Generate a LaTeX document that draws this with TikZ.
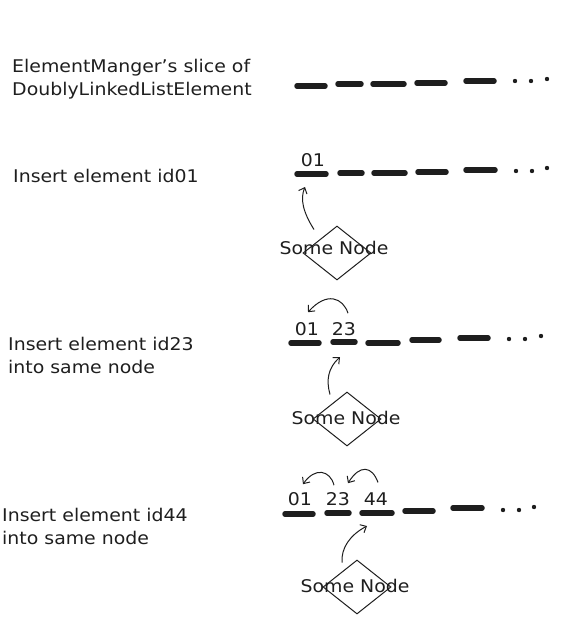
\documentclass[tikz,border=0pt]{standalone}
\usepackage{fontspec}
\setmainfont[FakeStretch=1.08]{DejaVu Sans}
\usetikzlibrary{shapes.geometric,arrows.meta}
\definecolor{ink}{HTML}{1E1E1E}
\begin{document}
\begin{tikzpicture}[x=1pt,y=-1pt,
  lbl/.style={anchor=west,align=left,font=\fontsize{17.5}{23}\selectfont,inner sep=0pt,text=ink},
  num/.style={font=\fontsize{17.5}{20}\selectfont,inner sep=0pt,text=ink},
  slot/.style={line width=5.5pt,line cap=round,draw=ink},
  dotc/.style={fill=ink},
  sn/.style={diamond,draw=ink,line width=1pt,minimum width=68pt,minimum height=54pt,inner sep=0pt},
  snt/.style={font=\fontsize{17.5}{20}\selectfont,inner sep=0pt,text=ink},
  arr/.style={-{Straight Barb[length=5pt,width=9pt]},line width=1pt,draw=ink}]
\useasboundingbox (0,0) rectangle (586,633);

% ---------- Row 1 ----------
\node[lbl] (t1) at (12,79) {ElementManger's slice of\\DoublyLinkedListElement};
\draw[slot] (297,86) -- (325,86);
\draw[slot] (338,84) -- (361,84);
\draw[slot] (373,84) -- (404,84);
\draw[slot] (417,83) -- (445,83);
\draw[slot] (466,81) -- (494,81);
\fill[dotc] (515,81) circle (2.2) (531,81) circle (2.2) (547,79) circle (2.2);

% ---------- Row 2 ----------
\node[lbl] (t2) at (13,176) {Insert element id01};
\node[num] (r2a) at (313,160) {01};
\draw[slot] (297,174) -- (326,174);
\draw[slot] (340,173) -- (362,173);
\draw[slot] (374,173) -- (405,173);
\draw[slot] (418,172) -- (446,172);
\draw[slot] (466,170) -- (495,170);
\fill[dotc] (516,171) circle (2.2) (532,171) circle (2.2) (547,168) circle (2.2);
\node[sn] (d2) at (337,253) {};
\node[snt] (d2t) at (334,248) {Some Node};
\coordinate (s2) at (305,187);
\draw[arr] ([shift={(-23,4)}]d2.north) .. controls (303,212) and (300,199) .. (s2);

% ---------- Row 3 ----------
\node[lbl] (t3) at (8,355.5) {Insert element id23\\into same node};
\node[num] (r3a) at (307,329) {01};
\node[num] (r3b) at (344,329) {23};
\draw[slot] (291,343) -- (319,343);
\draw[slot] (333,342) -- (355,342);
\draw[slot] (368,343) -- (398,343);
\draw[slot] (412,340) -- (439,340);
\draw[slot] (460,338) -- (488,338);
\fill[dotc] (509,339) circle (2.2) (525,339) circle (2.2) (541,336) circle (2.2);
\draw[arr] ([shift={(4,-9)}]r3b.north) .. controls (343,298) and (327,291) .. ([shift={(1,-10)}]r3a.north);
\node[sn] (d3) at (347,419) {};
\node[snt] (d3t) at (346,418) {Some Node};
\coordinate (s3) at (340,357);
\draw[arr] ([shift={(-17,3)}]d3.north) .. controls (326,380) and (328,368) .. (s3);

% ---------- Row 4 ----------
\node[lbl] (t4) at (2,526.5) {Insert element id44\\into same node};
\node[num] (r4a) at (300,499) {01};
\node[num] (r4b) at (338,499) {23};
\node[num] (r4c) at (376,499) {44};
\draw[slot] (285,514) -- (313,514);
\draw[slot] (327,513) -- (349,513);
\draw[slot] (362,513) -- (392,513);
\draw[slot] (405,511) -- (433,511);
\draw[slot] (453,508) -- (482,508);
\fill[dotc] (503,510) circle (2.2) (519,510) circle (2.2) (534,507) circle (2.2);
\draw[arr] ([shift={(-4,-7)}]r4b.north) .. controls (330,470) and (315,467) .. ([shift={(3,-8)}]r4a.north);
\draw[arr] ([shift={(2,-10)}]r4c.north) .. controls (372,466) and (360,464) .. ([shift={(10,-9)}]r4b.north);
\node[sn] (d4) at (357,587) {};
\node[snt] (d4t) at (355,586) {Some Node};
\coordinate (s4) at (367,526);
\draw[arr] ([shift={(-15,3)}]d4.north) .. controls (341,548) and (350,535) .. (s4);
\end{tikzpicture}
\end{document}
